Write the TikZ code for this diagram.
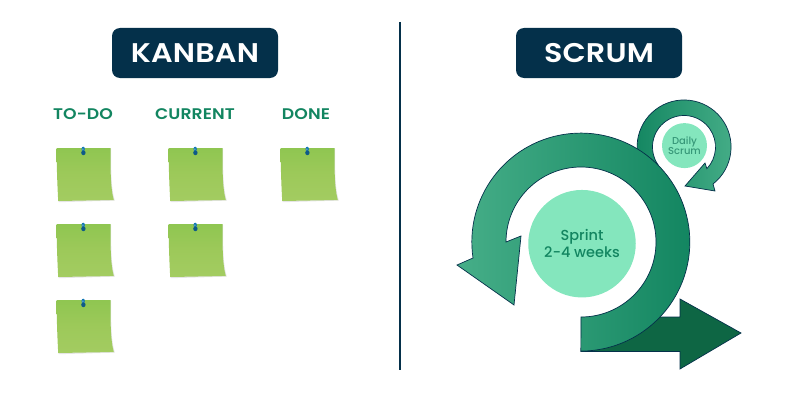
\documentclass[tikz,border=0pt]{standalone}
\usepackage{fontspec}
\setmainfont{Poppins}
\newfontfamily\semiFont[FakeStretch=1.12,LetterSpace=0.6]{Poppins SemiBold}
\newfontfamily\mediumFont{Poppins Medium}
\definecolor{navyBox}{HTML}{04304A}
\definecolor{headGreen}{HTML}{128560}
\definecolor{lightGreen}{HTML}{46AE88}
\definecolor{darkGreen}{HTML}{0E6644}
\definecolor{mintFill}{HTML}{84E6BD}
\definecolor{noteTop}{HTML}{8FC651}
\definecolor{noteMid}{HTML}{9DC95A}
\definecolor{noteBottom}{HTML}{A3CC61}
\definecolor{pinBlue}{HTML}{1378B4}
\tikzset{
    titleStyle/.style={rectangle, rounded corners=8pt, fill=navyBox, text=white, font=\fontsize{27}{27}\semiFont, minimum width=166pt, minimum height=50pt, inner sep=0pt},
    columnStyle/.style={text=headGreen, font=\fontsize{15.4}{15.4}\semiFont, inner sep=0pt},
    circleStyle/.style={circle, fill=mintFill, inner sep=0pt, align=center},
    edgeStyle/.style={draw=navyBox, line width=0.7pt, line join=miter},
    notePaper/.pic={
        \fill[black!10] (0.4,-0.5) -- (54.6,-0.5) .. controls (54.6,-25) and (54.6,-40) .. (58.3,-52.6) -- (2.2,-54.2) .. controls (0.8,-30) and (0.8,-15) .. cycle;
        \shade[top color=noteTop, bottom color=noteBottom, middle color=noteMid] (0,0) -- (54,0) .. controls (54,-25) and (54,-40) .. (57.3,-52) -- (1.7,-53) .. controls (0.5,-30) and (0.2,-15) .. cycle;
        \fill[pinBlue] (26.7,-1) ellipse (1.7pt and 2.3pt);
        \fill[pinBlue!75!black] (26.9,-4.8) ellipse (2.2pt and 2.4pt);
        \fill[pinBlue!70!white] (26.4,-1.4) ellipse (0.8pt and 1.2pt);
    }
}
\begin{document}
\begin{tikzpicture}[x=1pt, y=1pt]
    \useasboundingbox (0,0) rectangle (800,400);

    \node[titleStyle] (kanban) at (195,347) {KANBAN};
    \node[titleStyle] (scrum)  at (599,347) {SCRUM};
    \draw[navyBox, line width=1.6pt] (400,378) -- (400,30);

    \node[columnStyle] (todo)    at ( 83,286) {TO-DO};
    \node[columnStyle] (current) at (195,286) {CURRENT};
    \node[columnStyle] (done)    at (306,286) {DONE};

    % notes, column by column
    \foreach \px/\py in {56.5/252, 56.5/176, 56.5/100, 168.5/252, 168.5/176, 280.5/252}
        \pic at (\px,\py) {notePaper};

    % dark arrow
    \fill[darkGreen, edgeStyle] (600,83) -- (680,83) -- (680,101) -- (741,67) -- (680,31) -- (680,48.5) -- (581,48.5) -- cycle;

    % daily loop
    \path[edgeStyle, left color=headGreen, right color=lightGreen]
        (684,253) ++(215:31.5) arc[start angle=215, end angle=-43.5, radius=31.5]
        -- (705,237) -- (685,214) -- (715,209) -- (713,216)
        arc[start angle=-52, end angle=215, radius=47] -- cycle;

    % sprint loop
    \path[edgeStyle, left color=lightGreen, right color=headGreen]
        (581,83) arc[start angle=-90, end angle=180, radius=75]
        -- (521,164) -- (514,95) -- (457,135) -- (473,142)
        arc[start angle=188.4, end angle=-90, radius=109] -- cycle;

    \node[circleStyle, minimum size=107.5pt, text=headGreen, font=\fontsize{14.5}{17.5}\mediumFont] (sprint) at (582,156.3) {Sprint\\2-4 weeks};
    \node[circleStyle, minimum size=45pt, text=headGreen!85!white, font=\fontsize{10}{10.5}\mediumFont] (daily) at (684.5,254.4) {Daily\\Scrum};
\end{tikzpicture}
\end{document}
